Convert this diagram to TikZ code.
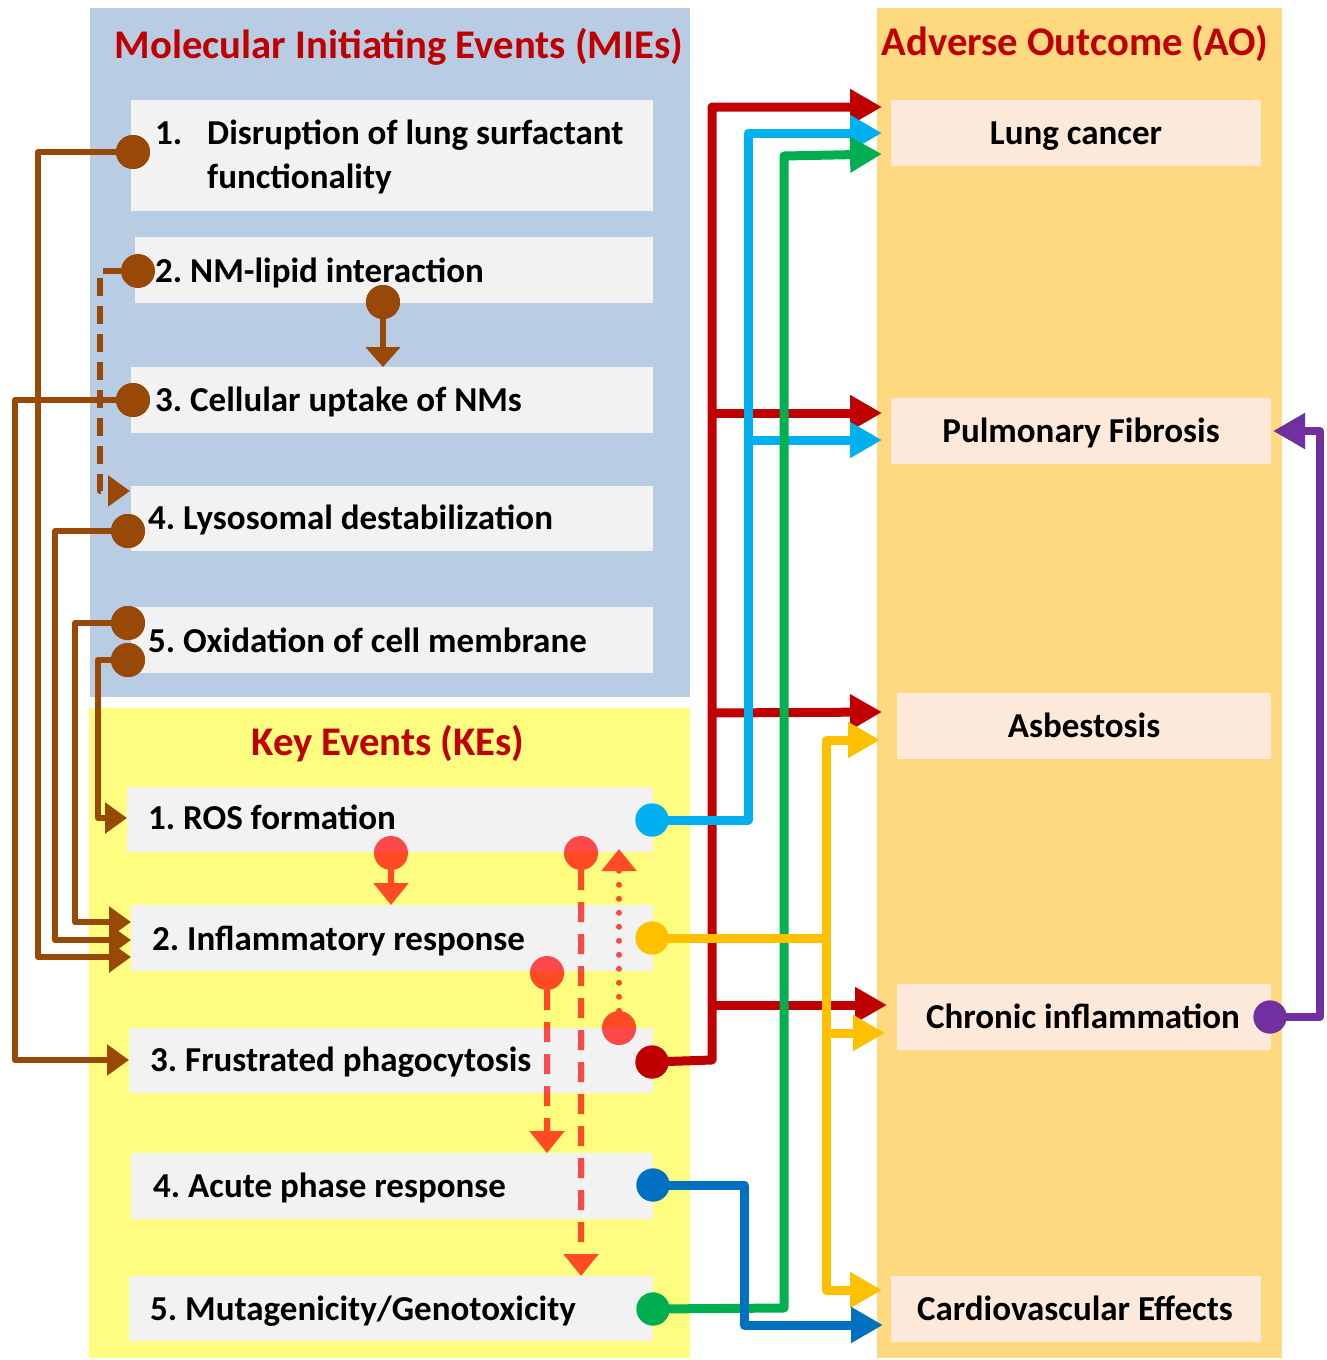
\documentclass[tikz,border=0pt]{standalone}
\usepackage{fontspec}
\setmainfont{Carlito}
\frenchspacing
\usetikzlibrary{arrows.meta,calc}
\definecolor{mieblue}{HTML}{B8CCE4}
\definecolor{keyellow}{HTML}{FFFD7F}
\definecolor{aoorange}{HTML}{FFD97F}
\definecolor{boxgray}{HTML}{F2F2F2}
\definecolor{aobox}{HTML}{FDE9D9}
\definecolor{titlered}{HTML}{C00000}
\definecolor{brownc}{HTML}{984807}
\definecolor{cyanc}{HTML}{00B0F0}
\definecolor{redc}{HTML}{C00000}
\definecolor{greenc}{HTML}{00B050}
\definecolor{goldc}{HTML}{FFC000}
\definecolor{bluec}{HTML}{0070C0}
\definecolor{purplec}{HTML}{7030A0}
\definecolor{kered}{HTML}{FF0000}
\tikzset{
  gbox/.style={fill=boxgray, inner sep=0pt, outer sep=0pt, anchor=north west},
  obox/.style={fill=aobox, inner sep=0pt, outer sep=0pt, anchor=north west},
  txt/.style={anchor=base west, inner sep=0pt, font=\fontsize{35}{42}\selectfont\bfseries},
  aotxt/.style={anchor=base, inner sep=0pt, font=\fontsize{35}{42}\selectfont\bfseries},
  ttl/.style={anchor=base, inner sep=0pt, text=titlered, font=\fontsize{40.7}{48}\selectfont\bfseries},
  bdot/.style={circle, fill=brownc, minimum size=34pt, inner sep=0pt},
  cdot/.style={circle, fill=#1, minimum size=33pt, inner sep=0pt},
  rdot/.style={circle, fill=kered, minimum size=34pt, inner sep=0pt},
  bline/.style={draw=brownc, line width=6pt, line join=round, -{Triangle[length=22pt,width=30pt]}},
  cline/.style={draw=#1, line width=9pt, line join=round, -{Triangle[length=32pt,width=34pt]}},
  cplain/.style={draw=#1, line width=9pt, line join=round},
  rline/.style={draw=kered, line width=6pt, -{Triangle[length=22pt,width=34pt]}},
}
\begin{document}
\begin{tikzpicture}[x=1pt,y=-1pt]
\useasboundingbox (0,0) rectangle (1326,1360);
% panels
\fill[mieblue] (90,8) rectangle (690,697);
\fill[keyellow] (89,708) rectangle (690,1358);
\fill[aoorange] (877,8) rectangle (1282,1358);
% titles
\node[ttl] (tmie) at (399,58) {Molecular Initiating Events (MIEs)};
\node[ttl] (tao) at (1075,55) {Adverse Outcome (AO)};
\node[ttl] (tke) at (388,755) {Key Events (KEs)};
% MIE boxes
\node[gbox, minimum width=522pt, minimum height=111pt] (m1) at (131,100) {};
\node[gbox, minimum width=518pt, minimum height=66pt] (m2) at (135,237) {};
\node[gbox, minimum width=522pt, minimum height=66pt] (m3) at (131,367) {};
\node[gbox, minimum width=522pt, minimum height=65pt] (m4) at (131,486) {};
\node[gbox, minimum width=522pt, minimum height=66pt] (m5) at (131,607) {};
\node[txt] (m1n) at (155,144) {1.};
\node[txt] (m1a) at (207,144) {Disruption of lung surfactant};
\node[txt] (m1b) at (207,188) {functionality};
\node[txt] (m2t) at (155,282) {2. NM-lipid interaction};
\node[txt] (m3t) at (155,411) {3. Cellular uptake of NMs};
\node[txt] (m4t) at (148,529) {4. Lysosomal destabilization};
\node[txt] (m5t) at (148,652) {5. Oxidation of cell membrane};
% KE boxes
\node[gbox, minimum width=526pt, minimum height=65pt] (k1) at (127,787) {};
\node[gbox, minimum width=522pt, minimum height=66pt] (k2) at (131,905) {};
\node[gbox, minimum width=524pt, minimum height=65pt] (k3) at (129,1028) {};
\node[gbox, minimum width=522pt, minimum height=66pt] (k4) at (131,1153) {};
\node[gbox, minimum width=524pt, minimum height=65pt] (k5) at (129,1276) {};
\node[txt] (k1t) at (148,829) {1. ROS formation};
\node[txt] (k2t) at (152,950) {2. Inflammatory response};
\node[txt] (k3t) at (150,1071) {3. Frustrated phagocytosis};
\node[txt] (k4t) at (153,1197) {4. Acute phase response};
\node[txt] (k5t) at (150,1320) {5. Mutagenicity/Genotoxicity};
% AO boxes
\node[obox, minimum width=370pt, minimum height=66pt] (a1) at (891,100) {};
\node[obox, minimum width=380pt, minimum height=66pt] (a2) at (891,398) {};
\node[obox, minimum width=374pt, minimum height=66pt] (a3) at (897,693) {};
\node[obox, minimum width=374pt, minimum height=66pt] (a4) at (897,984) {};
\node[obox, minimum width=370pt, minimum height=66pt] (a5) at (891,1276) {};
\node[aotxt] (a1t) at (1076,144) {Lung cancer};
\node[aotxt] (a2t) at (1081,442) {Pulmonary Fibrosis};
\node[aotxt] (a3t) at (1084,737) {Asbestosis};
\node[aotxt] (a4t) at (1083,1028) {Chronic inflammation};
\node[aotxt] (a5t) at (1075,1320) {Cardiovascular Effects};
% brown dots
\node[bdot] (b1) at (133,152) {};
\node[bdot] (b2) at (138,271) {};
\node[bdot] (b2b) at (383,302) {};
\node[bdot] (b3) at (133,400) {};
\node[bdot] (b4) at (128,531) {};
\node[bdot] (b5a) at (128,623) {};
\node[bdot] (b5b) at (128,660) {};
% brown connectors
\draw[bline] (b1.center) -- (38,152) |- (k2.west |- 0,957);
\draw[bline] (b3.center) -- (15,400) |- (k3.west |- 0,1060);
\draw[bline] (b4.center) -- (55,531) |- (k2.west |- 0,940);
\draw[bline] (b5a.center) -- (75,623) |- (k2.west |- 0,922);
\draw[bline] (b5b.center) -- (98,660) |- (k1.west |- 0,818);
\draw[bline, dash pattern=on 18pt off 10pt] (b2) -- (100,271) |- ([xshift=-1pt]m4.west |- 0,491);
\draw[bline, -{Triangle[length=20pt,width=34pt]}] (b2b.center) -- (b2b |- m3.north);
\node[bdot] at (b1) {};
\node[bdot] at (b3) {};
\node[bdot] at (b4) {};
\node[bdot] at (b5a) {};
\node[bdot] at (b5b) {};
\node[bdot] at (b2b) {};
% KE internal red connectors (semi-transparent group)
\begin{scope}[transparency group, opacity=0.7]
\node[rdot] (r1) at (391,853) {};
\node[rdot] (r2) at (581,853) {};
\node[rdot] (r3) at (547,973) {};
\node[rdot] (r4) at (619,1028) {};
\draw[rline] (r1) -- (r1 |- k2.north);
\draw[rline, dash pattern=on 20pt off 12pt] (r2) -- (r2 |- k5.north);
\draw[rline, dash pattern=on 20pt off 12pt] (r3) -- (r3 |- k4.north);
\draw[rline, line cap=round, dash pattern=on 0pt off 14pt] (r4) -- ([yshift=3pt]r4 |- k1.south);
\end{scope}
% coloured KE dots
\node[cdot=cyanc] (c1) at (652,820) {};
\node[cdot=goldc] (c2) at (652,938) {};
\node[cdot=redc] (c3) at (652,1062) {};
\node[cdot=bluec] (c4) at (653,1185) {};
\node[cdot=greenc] (c5) at (653,1309) {};
\node[cdot=purplec] (p4) at (1270,1017) {};
% red connectors
\draw[cline=redc] (c3.center) -- (712,1060) -- (712,107) -- ([xshift=-9pt]a1.west |- 0,107);
\draw[cline=redc] (712,413) -- ([xshift=-9pt]a2.west |- 0,413);
\draw[cline=redc] (712,713) -- ([xshift=-15pt]a3.west |- 0,712);
\draw[cline=redc] (712,1005) -- ([xshift=-10pt]a4.west |- 0,1005);
% cyan
\draw[cline=cyanc] (c1.center) -- (748,820) -- (748,133) -- ([xshift=-9pt]a1.west |- 0,133);
\draw[cline=cyanc] (748,440) -- ([xshift=-9pt]a2.west |- 0,440);
% green
\draw[cline=greenc] (c5.center) -- (784,1308) -- (784,156) -- ([xshift=-9pt]a1.west |- 0,154);
% gold
\draw[cplain=goldc] (c2.center) -- (826,938);
\draw[cline=goldc] (826,1290) -- (826,740) -- ([xshift=-17pt]a3.west |- 0,740);
\draw[cline=goldc] (826,1033) -- ([xshift=-12pt]a4.west |- 0,1033);
\draw[cline=goldc] (826,1100) -- (826,1290) -- ([xshift=-9pt]a5.west |- 0,1290);
% blue
\draw[cline=bluec] (c4.center) -- (744,1185) -- (744,1325) -- ([xshift=-8pt]a5.west |- 0,1325);
% purple
\draw[cline=purplec, line width=8pt] (p4.center) -- (1320,1017) -- (1320,431) -- ([xshift=2pt]a2.east |- 0,431);
% redraw dots on top
\node[cdot=cyanc] at (c1) {};
\node[cdot=goldc] at (c2) {};
\node[cdot=redc] at (c3) {};
\node[cdot=bluec] at (c4) {};
\node[cdot=greenc] at (c5) {};
\node[cdot=purplec] at (p4) {};
\end{tikzpicture}
\end{document}
